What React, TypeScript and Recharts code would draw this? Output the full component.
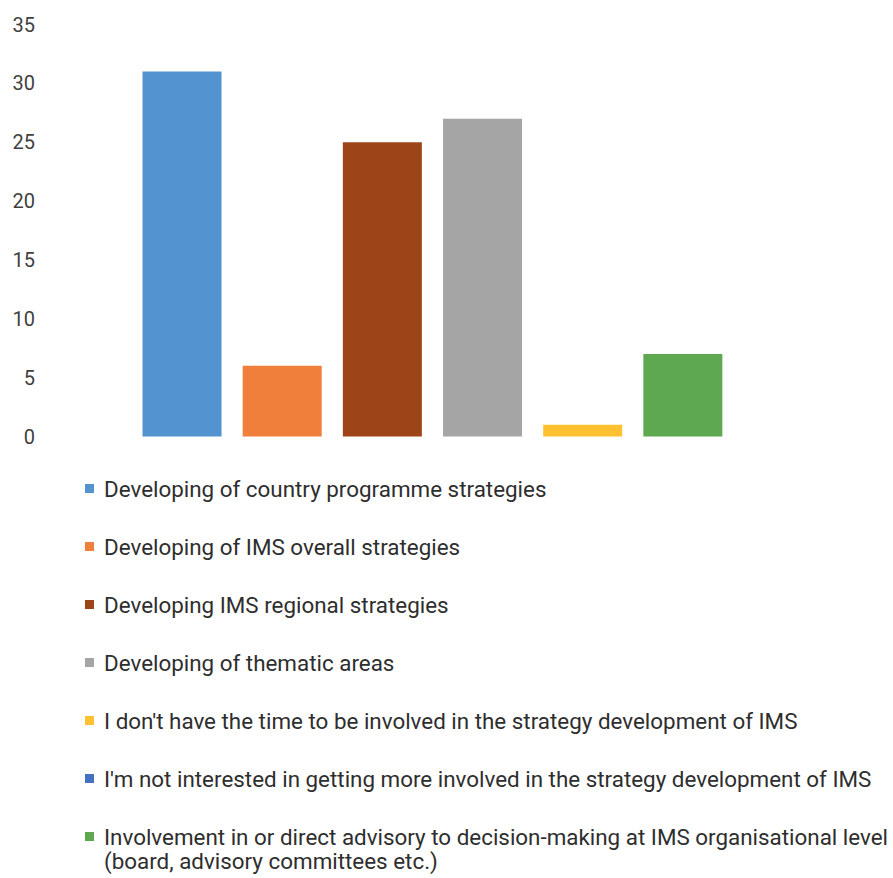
import React from 'react';
import { BarChart, Bar, XAxis, YAxis, Cell, Legend } from 'recharts';

// Survey answers: one bar per answer option, legend lists every option.
const categories = [
  'Developing of country programme strategies',
  'Developing of IMS overall strategies',
  'Developing IMS regional strategies',
  'Developing of thematic areas',
  "I don't have the time to be involved in the strategy development of IMS",
  "I'm not interested in getting more involved in the strategy development of IMS",
  'Involvement in or direct advisory to decision-making at IMS organisational level\n(board, advisory committees etc.)',
];

// null = no responses, so no bar is drawn for that option
const responses: (number | null)[] = [31, 6, 25, 27, 1, null, 7];

const colors = ['#5393d0', '#f07f3c', '#9d4418', '#a5a5a5', '#ffc12f', '#4371c4', '#5ea84f'];

const yTicks = [0, 5, 10, 15, 20, 25, 30, 35];

const FONT = 'Roboto, "Noto Sans", sans-serif';

const chartData = categories
  .map((name, i) => ({ name, value: responses[i], color: colors[i] }))
  .filter((d) => d.value !== null);

const LegendList = () => (
  <div style={{ position: 'relative', width: 893, height: 878, fontFamily: FONT }}>
    {categories.map((name, i) => (
      <div
        key={name}
        style={{
          position: 'absolute',
          left: 85,
          top: 476.5 + i * 58,
          display: 'flex',
          alignItems: 'flex-start',
          fontSize: 22.4,
          lineHeight: '24px',
          color: '#2e2e2e',
          whiteSpace: 'pre-line',
          textAlign: 'left',
        }}
      >
        <span
          style={{
            display: 'inline-block',
            width: 9,
            height: 9,
            marginTop: 7.5,
            marginRight: 10,
            background: colors[i],
            flexShrink: 0,
          }}
        />
        <span>{name}</span>
      </div>
    ))}
  </div>
);

export default function App() {
  return (
    <div style={{ position: 'absolute', left: 0, top: 0, width: 893, height: 878, background: '#fff' }}>
      <BarChart
        width={893}
        height={878}
        data={chartData}
        margin={{ top: 24.5, right: 160, bottom: 441.5, left: 0 }}
        barCategoryGap="10.5%"
      >
        <XAxis dataKey="name" hide />
        <YAxis
          width={132}
          domain={[0, 35]}
          ticks={yTicks}
          interval={0}
          axisLine={false}
          tickLine={false}
          tickMargin={91}
          tick={{ fontSize: 20, fill: '#3f3f3f', fontFamily: FONT }}
        />
        <Bar dataKey="value" isAnimationActive={false}>
          {chartData.map((d) => (
            <Cell key={d.name} fill={d.color} />
          ))}
        </Bar>
        <Legend
          layout="vertical"
          align="center"
          verticalAlign="middle"
          content={() => <LegendList />}
          wrapperStyle={{ position: 'absolute', left: 0, top: 0, width: 893, height: 878, pointerEvents: 'none' }}
        />
      </BarChart>
    </div>
  );
}
